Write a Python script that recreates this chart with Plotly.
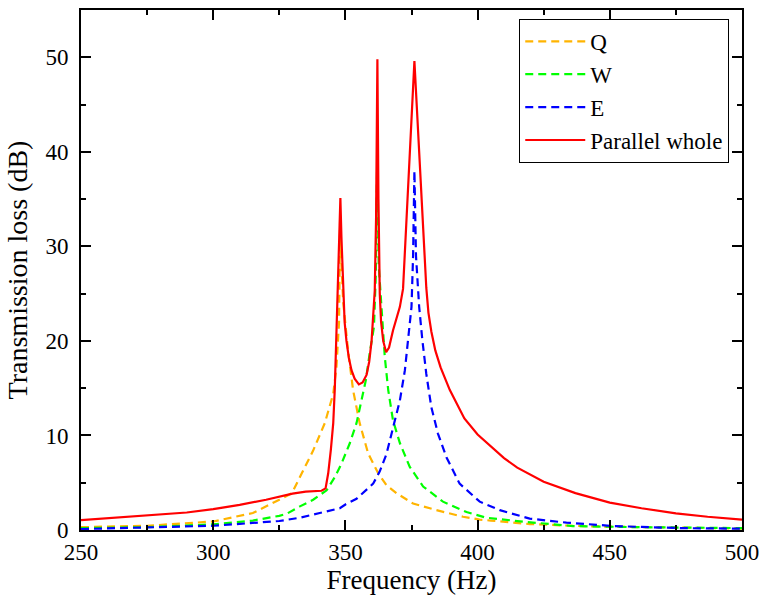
import plotly.graph_objects as go

# ---- data ----
q_f = [250, 275, 300, 315, 325, 329.8, 332.8, 337.8, 342.2, 345.4, 346.6, 347.6, 348.0, 348.5, 349.2, 350.0,
       351.0, 352.9, 355.4, 358.6, 362.4, 365.5, 369.3, 375.6, 384.4, 394.5, 400.8, 405, 419.7, 440, 470, 500]
q_tl = [0.3, 0.45, 0.9, 1.8, 3.2, 3.9, 5.6, 8.4, 11.3, 14.4, 17.2, 22.0, 33.0, 28.0, 24.0, 21.5,
        19.0, 14.8, 11.3, 8.1, 6.0, 4.75, 3.9, 2.8, 2.1, 1.4, 1.1, 1.0, 0.63, 0.4, 0.25, 0.15]

w_f = [250, 275, 300, 315, 325, 327.7, 332.8, 337.8, 342.9, 346, 348.5, 351.7, 354.2, 356.1, 357.7, 359.2,
       360.8, 361.5, 362.0, 362.6, 363.6, 364.3, 364.9, 366.2, 368, 370.6, 374.3, 379.4, 386.9, 395.8,
       403.3, 417.2, 436, 460, 500]
w_tl = [0.2, 0.3, 0.6, 1.0, 1.5, 1.7, 2.5, 3.2, 4.2, 5.6, 7.0, 9.2, 11.3, 13.7, 15.8, 18.7,
        21.5, 27.0, 38.5, 28.0, 23.6, 21.1, 18.3, 14.8, 11.6, 9.2, 6.7, 4.6, 3.0, 1.9,
        1.3, 0.88, 0.42, 0.3, 0.2]

e_f = [250, 275, 300, 325, 332.8, 340.3, 347.9, 350, 354.2, 360.5, 363, 365.5, 368, 370.6, 372.5, 373.7,
       375.0, 375.6, 376.1, 376.7, 377.9, 379.1, 380.6, 382.5, 385, 388.2, 393.2, 400.8, 408.4, 419.7,
       433.6, 451.2, 476.4, 500]
e_tl = [0.1, 0.25, 0.45, 0.95, 1.3, 1.8, 2.3, 2.7, 3.3, 4.9, 6.2, 8.0, 10.9, 13.7, 16.9, 20.1,
        23.6, 29.0, 38.0, 29.0, 23.6, 20.1, 16.5, 13.0, 10.2, 7.7, 4.9, 3.0, 2.1, 1.2,
        0.78, 0.42, 0.2, 0.14]

p_f = [250, 260, 275, 290, 300, 310, 320, 325, 330, 335, 338, 341, 342.5, 343.5, 344.5, 345.4, 346.0,
       346.6, 347.2, 347.7, 348.1, 348.5, 349.1, 349.7, 350.4, 351.3, 352.3, 353.5, 355.1, 356.5, 358.0,
       359.0, 359.9, 360.6, 361.1, 361.6, 362.1, 362.5, 363.0, 363.5, 364.3, 365.4, 366.5, 368.0, 369.5,
       370.6, 371.8, 373.0, 374.1, 375.2, 376.1, 377.0, 378.4, 379.5, 380.6, 381.4, 382.5, 384.0, 386.0,
       389.5, 395, 400, 405, 410, 415, 425, 437, 450, 462, 475, 487, 500]
p_tl = [1.05, 1.25, 1.5, 1.85, 2.2, 2.65, 3.2, 3.5, 3.85, 4.05, 4.1, 4.15, 4.4, 6.0, 8.5, 11.3, 15.0,
        21.0, 27.0, 32.0, 35.1, 31.0, 25.3, 22.0, 20.0, 18.2, 16.9, 16.0, 15.4, 15.6, 16.4,
        17.8, 20.0, 22.5, 25.3, 33.0, 49.8, 35.0, 25.0, 22.0, 20.0, 18.8, 19.3, 21.1, 22.5,
        23.6, 25.5, 32.2, 38.4, 44.5, 49.6, 44.8, 37.2, 31.3, 25.6, 23.0, 21.0, 19.0, 17.2,
        14.8, 11.8, 10.1, 8.8, 7.6, 6.6, 5.1, 3.9, 2.9, 2.3, 1.76, 1.4, 1.1]

series = [
    ("Q", q_f, q_tl, "#FFB400", "8px,5px"),
    ("W", w_f, w_tl, "#00FF00", "8px,5px"),
    ("E", e_f, e_tl, "#0000FF", "8px,5px"),
    ("Parallel whole", p_f, p_tl, "#FF0000", "solid"),
]

x_ticks = [250, 300, 350, 400, 450, 500]
y_ticks = [0, 10, 20, 30, 40, 50]

FONT = "Liberation Serif"

fig = go.Figure()
for name, xs, ys, col, dash in series:
    fig.add_trace(go.Scatter(x=xs, y=ys, mode="lines", name=name,
                             line=dict(color=col, width=2.2, dash=dash)))

axis_common = dict(
    showline=True, linecolor="black", linewidth=2, mirror="ticks",
    ticks="inside", ticklen=10, tickwidth=2, tickcolor="black",
    showgrid=False, zeroline=False, automargin=False,
    tickfont=dict(family=FONT, size=23, color="black"),
)

fig.update_xaxes(range=[250, 500], tickvals=x_ticks,
                 title=dict(text="Frequency (Hz)", font=dict(family=FONT, size=27, color="black"), standoff=6),
                 minor=dict(dtick=25, ticks="inside", ticklen=5, tickwidth=2, tickcolor="black", showgrid=False),
                 ticklabelstandoff=0,
                 **axis_common)
fig.update_yaxes(range=[0, 55], tickvals=y_ticks,
                 title=dict(text="Transmission loss (dB)", font=dict(family=FONT, size=28, color="black"), standoff=10),
                 minor=dict(dtick=5, ticks="inside", ticklen=5, tickwidth=2, tickcolor="black", showgrid=False),
                 ticklabelstandoff=6,
                 **axis_common)

fig.update_layout(
    width=764, height=611,
    margin=dict(l=81, r=22, t=10, b=81),
    plot_bgcolor="white", paper_bgcolor="white",
    font=dict(family=FONT, color="black"),
    legend=dict(x=0.663, y=0.983, xanchor="left", yanchor="top",
                bordercolor="black", borderwidth=1, bgcolor="white",
                font=dict(family=FONT, size=23, color="black"),
                tracegroupgap=0, itemwidth=60),
    showlegend=True,
)

fig.write_html("out.html")
